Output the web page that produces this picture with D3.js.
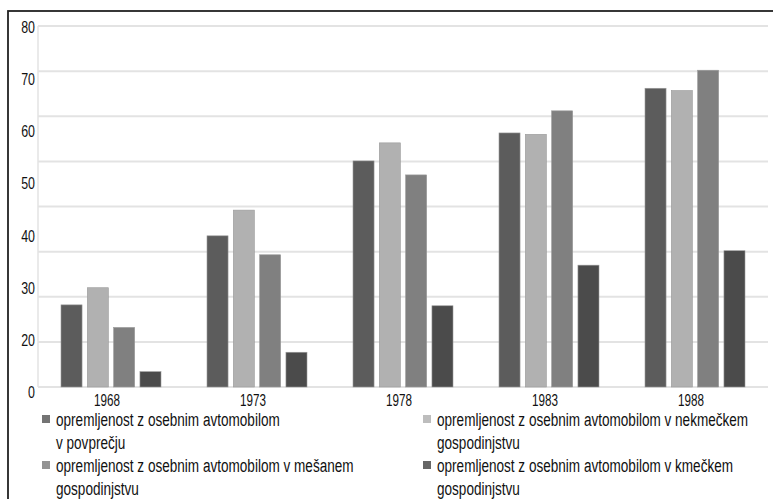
<!DOCTYPE html>
<html>
<head>
<meta charset="utf-8">
<script src="https://cdn.jsdelivr.net/npm/d3@7"></script>
<style>
  html, body { margin: 0; padding: 0; background: #fff; overflow: hidden; }
  svg { display: block; font-family: "Liberation Sans", Arial, sans-serif; }
</style>
</head>
<body>
<svg id="chart" width="773" height="499"></svg>
<script>
const years = ["1968", "1973", "1978", "1983", "1988"];
const seriesKeys = ["povprecje", "nekmecko", "mesano", "kmecko"];

const povprecje = [18.2, 33.5, 50.1, 56.3, 66.2];
const nekmecko  = [22.0, 39.2, 54.1, 56.0, 65.7];
const mesano    = [13.2, 29.3, 47.0, 61.2, 70.2];
const kmecko    = [3.4, 7.7, 18.0, 27.0, 30.2];

// labels as printed (they don't sit on the grid lines in the original)
const yLabels = ["80", "70", "60", "50", "40", "30", "20", "0"];
const yGrid = [0, 10, 20, 30, 40, 50, 60, 70, 80];

const legendLines = [
  ["opremljenost z osebnim avtomobilom", "v povprečju"],
  ["opremljenost z osebnim avtomobilom v nekmečkem", "gospodinjstvu"],
  ["opremljenost z osebnim avtomobilom v mešanem", "gospodinjstvu"],
  ["opremljenost z osebnim avtomobilom v kmečkem", "gospodinjstvu"]
];

const colors = ["#5c5c5c", "#b1b1b1", "#808080", "#4b4b4b"];

const values = [povprecje, nekmecko, mesano, kmecko];
const data = years.map((y, i) => ({
  year: y,
  vals: seriesKeys.map((k, j) => ({ key: k, idx: j, value: values[j][i] }))
}));

const svg = d3.select("#chart");
const margin = { top: 26, right: 5, bottom: 112, left: 38 };
const width = 773, height = 499;
const legendFont = 18;
const tickFont = 16;

// the original uses a condensed face; measure a plain one and squeeze it
function squeezeFor(str, size, target) {
  const t = svg.append("text").attr("font-size", size).text(str);
  const k = target / t.node().getComputedTextLength();
  t.remove();
  return k;
}
const legSqueeze = squeezeFor(legendLines[0][0], legendFont, 224);
const tickSqueeze = squeezeFor("1968", tickFont, 26);

const x0 = d3.scaleBand()
  .domain(years)
  .range([margin.left, width - margin.right]);

const x1 = d3.scaleBand()
  .domain(seriesKeys)
  .range([23, x0.bandwidth() - 23])
  .paddingInner(0.2);

const y = d3.scaleLinear()
  .domain([0, 80])
  .range([height - margin.bottom, margin.top]);

const yLab = d3.scalePoint()
  .domain(yLabels)
  .range([27, 392]);

// frame (top + left, the picture is cropped on the other sides)
svg.append("rect")
  .attr("x", 8).attr("y", 11)
  .attr("width", 800).attr("height", 520)
  .attr("fill", "none")
  .attr("stroke", "#222")
  .attr("stroke-width", 1.8);

// grid
svg.append("g")
  .selectAll("line")
  .data(yGrid)
  .enter().append("line")
  .attr("x1", margin.left)
  .attr("x2", width - margin.right)
  .attr("y1", d => y(d))
  .attr("y2", d => y(d))
  .attr("stroke", "#e3e3e3")
  .attr("stroke-width", 2);

svg.append("line")
  .attr("x1", margin.left).attr("x2", margin.left)
  .attr("y1", y(80)).attr("y2", y(0))
  .attr("stroke", "#e3e3e3")
  .attr("stroke-width", 1.5);

// y labels
svg.append("g")
  .selectAll("text")
  .data(yLabels)
  .enter().append("text")
  .attr("transform", d => `translate(35,${yLab(d)}) scale(${tickSqueeze},1)`)
  .attr("dy", "0.35em")
  .attr("text-anchor", "end")
  .attr("font-size", 17)
  .attr("fill", "#111")
  .text(d => d);

// bars
const groups = svg.append("g")
  .selectAll("g")
  .data(data)
  .enter().append("g")
  .attr("transform", d => `translate(${x0(d.year)},0)`);

groups.selectAll("rect")
  .data(d => d.vals)
  .enter().append("rect")
  .attr("x", d => x1(d.key))
  .attr("y", d => y(d.value))
  .attr("width", x1.bandwidth())
  .attr("height", d => y(0) - y(d.value))
  .attr("fill", d => colors[d.idx])
  .attr("stroke", "#9a9a9a")
  .attr("stroke-width", 0.6);

// x labels
svg.append("g")
  .selectAll("text")
  .data(years)
  .enter().append("text")
  .attr("transform", d => `translate(${x0(d) + x0.bandwidth() / 2 - 4},400) scale(${tickSqueeze},1)`)
  .attr("dy", "0.35em")
  .attr("text-anchor", "middle")
  .attr("font-size", tickFont)
  .attr("fill", "#111")
  .text(d => d);

// legend
const legendPos = [[42, 420], [423, 420], [42, 466], [423, 466]];
const leg = svg.append("g")
  .selectAll("g")
  .data(legendLines)
  .enter().append("g")
  .attr("transform", (d, i) => `translate(${legendPos[i][0]},${legendPos[i][1]})`);

leg.append("rect")
  .attr("x", 0).attr("y", -5)
  .attr("width", 8).attr("height", 8)
  .attr("fill", (d, i) => colors[i])
  .attr("opacity", 0.85);

const lt = leg.append("text")
  .attr("transform", `translate(14,0) scale(${legSqueeze},1)`)
  .attr("font-size", legendFont)
  .attr("fill", "#111");

lt.selectAll("tspan")
  .data(d => d)
  .enter().append("tspan")
  .attr("x", 0)
  .attr("y", (d, i) => i * 23)
  .attr("dy", "0.35em")
  .text(d => d);
</script>
</body>
</html>
